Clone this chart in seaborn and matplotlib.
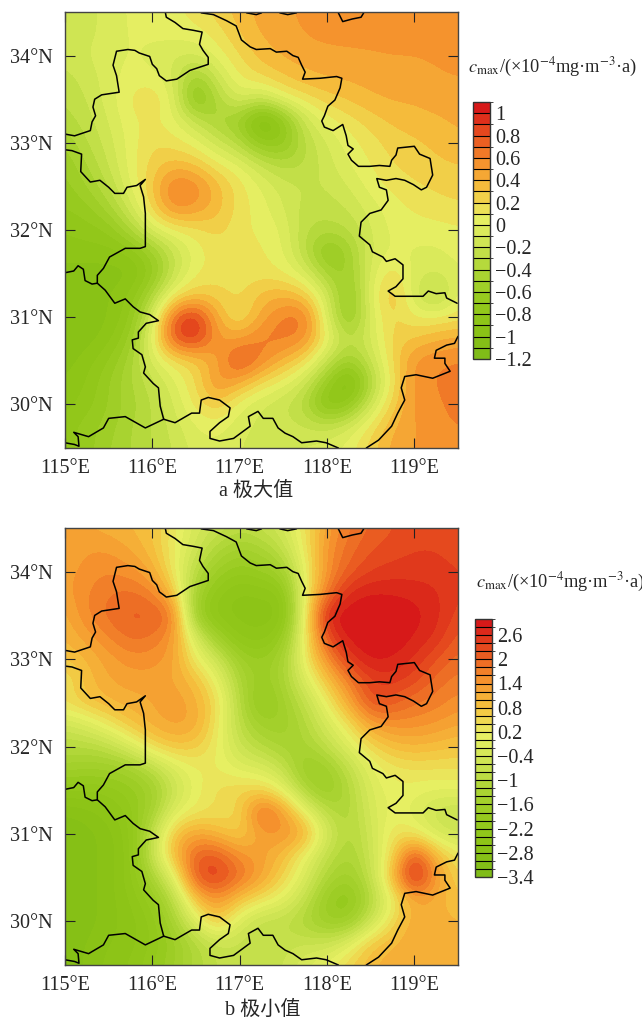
import numpy as np
import seaborn as sns
import matplotlib.pyplot as plt
from matplotlib.colors import BoundaryNorm, ListedColormap

# grid nodes of both fields (rows go north to south)
lons = [115 + 0.25 * i for i in range(19)]
lats = [34.5 - 0.25 * i for i in range(21)]

# a: maximum
field_a = [
    [-0.15,-0.12,-0.08,0.03,0.05,0.07,0.15,0.25,0.35,0.45,0.45,0.55,0.55,0.55,0.55,0.55,0.55,0.55,0.55],
    [-0.15,-0.12,-0.08,0.02,0.03,0.05,0.05,0.15,0.30,0.42,0.45,0.50,0.55,0.55,0.55,0.55,0.55,0.55,0.55],
    [-0.15,-0.10,-0.05,0.02,-0.05,-0.10,-0.10,0.05,0.20,0.35,0.42,0.45,0.45,0.47,0.48,0.50,0.50,0.52,0.55],
    [-0.25,-0.15,-0.05,0.05,0.05,-0.10,-0.55,-0.15,0.12,0.20,0.30,0.38,0.42,0.42,0.45,0.45,0.45,0.48,0.50],
    [-0.30,-0.20,-0.05,0.12,0.22,0.00,-0.85,-0.35,-0.05,-0.20,0.05,0.15,0.25,0.32,0.38,0.42,0.42,0.45,0.45],
    [-0.35,-0.25,-0.10,0.08,0.12,0.03,-0.20,-0.45,-0.55,-1.15,-0.75,-0.15,0.05,0.15,0.25,0.32,0.35,0.38,0.42],
    [-0.50,-0.30,-0.15,0.05,0.20,0.15,0.05,-0.15,-0.35,-0.70,-0.70,-0.30,-0.10,0.05,0.15,0.25,0.28,0.32,0.38],
    [-0.60,-0.40,-0.20,0.05,0.25,0.35,0.30,0.12,0.02,-0.20,-0.35,-0.30,-0.15,0.00,0.10,0.20,0.25,0.28,0.30],
    [-0.65,-0.50,-0.30,0.00,0.30,0.68,0.60,0.35,0.15,0.00,-0.15,-0.20,-0.20,-0.10,0.05,0.13,0.18,0.22,0.25],
    [-0.70,-0.65,-0.45,-0.15,0.25,0.58,0.50,0.35,0.15,0.05,-0.10,-0.25,-0.25,-0.20,-0.05,0.05,0.12,0.15,0.18],
    [-0.80,-0.75,-0.70,-0.40,-0.05,0.10,0.15,0.25,0.12,0.08,0.00,-0.30,-0.35,-0.30,-0.10,0.03,0.05,0.06,0.08],
    [-0.85,-0.85,-0.85,-0.80,-0.55,-0.20,0.05,0.15,0.15,0.12,0.02,-0.30,-0.75,-0.50,-0.10,0.02,-0.02,-0.03,0.05],
    [-0.95,-0.95,-0.95,-0.95,-0.70,-0.20,0.10,0.15,0.12,0.15,0.10,-0.05,-0.45,-0.55,-0.05,0.20,-0.05,-0.12,-0.02],
    [-1.00,-1.00,-0.90,-0.80,-0.40,0.15,0.28,0.25,0.18,0.35,0.40,0.30,-0.10,-0.70,0.00,0.38,-0.10,-0.40,0.05],
    [-1.00,-1.00,-0.90,-0.75,-0.10,0.80,1.00,0.40,0.12,0.45,0.65,0.70,-0.05,-0.70,-0.05,0.25,0.10,0.10,0.15],
    [-1.00,-0.95,-0.85,-0.60,0.05,0.85,0.95,0.50,0.50,0.65,0.65,0.58,0.10,-0.30,-0.10,0.25,0.30,0.40,0.45],
    [-0.95,-0.85,-0.70,-0.45,-0.05,0.15,0.25,0.45,0.88,0.60,0.38,0.20,-0.20,-0.55,-0.20,0.20,0.55,0.58,0.60],
    [-0.90,-0.80,-0.60,-0.40,-0.25,-0.02,0.20,0.58,0.42,0.20,0.05,-0.15,-0.60,-1.10,-0.40,0.15,0.55,0.60,0.70],
    [-0.85,-0.75,-0.60,-0.45,-0.30,-0.10,0.15,0.30,0.02,-0.12,-0.20,-0.35,-0.90,-0.70,-0.15,0.25,0.55,0.55,0.68],
    [-0.75,-0.65,-0.55,-0.40,-0.30,-0.15,0.00,0.05,-0.08,-0.12,-0.15,-0.20,-0.22,-0.10,0.15,0.40,0.50,0.55,0.60],
    [-0.75,-0.65,-0.50,-0.40,-0.30,-0.20,-0.05,-0.02,-0.10,-0.15,-0.10,-0.08,-0.05,0.05,0.25,0.45,0.50,0.55,0.55],
]

# b: minimum
field_b = [
    [1.2,1.2,1.1,1.0,0.8,0.3,-0.3,-0.6,-0.9,-0.7,-0.4,0.4,1.3,1.8,2.0,2.2,2.3,2.3,2.3],
    [1.2,1.4,1.4,1.2,0.9,0.2,-0.5,-1.2,-1.5,-1.3,-0.8,0.3,1.5,1.9,2.2,2.3,2.4,2.4,2.3],
    [1.3,1.5,1.6,1.5,1.2,0.3,-1.0,-1.7,-2.0,-1.8,-1.5,0.1,1.5,2.1,2.4,2.5,2.5,2.5,2.4],
    [1.3,1.6,1.8,1.9,1.7,0.9,-1.5,-2.2,-2.5,-2.4,-2.3,0.2,1.8,2.7,2.85,2.8,2.75,2.65,2.4],
    [1.1,1.6,1.9,2.1,2.1,1.9,-1.8,-2.4,-2.5,-2.5,-2.6,0.3,2.9,3.0,3.0,3.0,2.9,2.7,2.3],
    [1.0,1.3,1.6,1.9,1.8,1.4,-0.3,-1.6,-2.3,-2.4,-1.9,0.3,2.3,2.95,3.0,3.0,2.8,2.6,2.1],
    [0.8,1.0,1.3,1.5,1.5,1.3,0.2,-0.5,-1.6,-1.8,-1.4,0.3,1.5,2.5,2.9,2.8,2.6,2.2,1.9],
    [0.3,0.9,1.2,1.3,1.3,1.2,0.9,0.1,-1.2,-1.8,-1.3,-0.2,0.8,1.7,2.4,2.5,2.3,1.9,1.7],
    [0.5,0.8,1.0,1.1,1.2,1.4,1.1,0.5,-1.0,-2.2,-1.5,-0.8,0.2,1.2,2.3,2.1,1.8,1.7,1.5],
    [-0.5,-0.2,0.3,0.8,1.1,1.3,1.2,0.3,-0.9,-1.5,-1.6,-1.1,-0.3,0.4,1.3,1.5,1.5,1.4,1.2],
    [-1.0,-1.0,-0.8,-0.2,0.5,0.8,0.7,0.2,-0.6,-1.0,-1.3,-1.3,-0.8,-0.1,0.5,0.9,1.0,0.9,0.8],
    [-1.5,-1.6,-1.6,-1.5,-0.9,-0.2,0.2,0.2,-0.1,-0.2,-0.7,-1.8,-1.6,-0.8,0.0,0.3,0.4,0.4,0.4],
    [-2.2,-2.2,-2.1,-1.9,-1.6,-0.6,0.1,0.5,0.6,0.6,0.1,-1.2,-1.8,-1.1,-0.2,0.15,0.1,0.0,0.05],
    [-2.8,-2.7,-2.5,-2.1,-1.4,-0.1,0.3,0.4,0.5,2.2,1.4,0.2,-0.9,-1.2,-0.3,0.1,-0.1,-0.6,-0.7],
    [-3.0,-2.9,-2.7,-2.3,-0.8,0.9,1.3,1.0,0.6,1.3,1.5,1.2,-0.3,-1.2,-0.5,0.4,0.3,-0.3,-0.5],
    [-3.0,-2.9,-2.7,-2.4,-0.6,1.0,2.1,2.2,1.5,1.3,0.9,0.1,-0.8,-1.3,-0.6,0.5,2.5,1.0,0.3],
    [-3.0,-2.9,-2.7,-2.3,-1.3,-0.1,2.3,2.5,1.9,1.3,0.6,-0.2,-1.2,-1.6,-0.8,1.0,3.0,1.4,0.6],
    [-3.0,-2.9,-2.7,-2.4,-1.9,-0.9,0.9,1.5,0.8,0.4,0.0,-0.7,-1.8,-2.2,-1.1,0.1,1.2,1.1,0.8],
    [-3.0,-2.9,-2.7,-2.5,-2.2,-1.3,-0.1,0.9,-0.2,-0.8,-0.8,-1.2,-1.7,-1.7,-0.6,0.5,1.2,1.1,1.0],
    [-2.9,-2.8,-2.6,-2.5,-2.2,-1.7,-1.1,-0.6,-0.7,-0.8,-0.7,-0.6,-0.6,-0.1,0.8,1.0,1.2,1.2,1.1],
    [-2.9,-2.8,-2.5,-2.4,-2.0,-1.6,-1.1,-0.8,-0.6,-0.8,-0.6,-0.2,0.1,0.6,1.0,1.1,1.2,1.2,1.2],
]

# colour bar levels and labels
levels_a = [-1.2 + 0.1 * i for i in range(24)]
levels_b = [-3.4 + 0.2 * i for i in range(33)]
ticks_a = [1, 0.8, 0.6, 0.4, 0.2, 0, -0.2, -0.4, -0.6, -0.8, -1, -1.2]
labels_a = ["1", "0.8", "0.6", "0.4", "0.2", "0", "−0.2", "−0.4", "−0.6", "−0.8", "−1", "−1.2"]
ticks_b = [2.6, 2, 1.4, 0.8, 0.2, -0.4, -1, -1.6, -2.2, -2.8, -3.4]
labels_b = ["2.6", "2", "1.4", "0.8", "0.2", "−0.4", "−1", "−1.6", "−2.2", "−2.8", "−3.4"]
anchors = ["#80BC18", "#8CC416", "#96CA1E", "#ACD534", "#CDE452", "#E8F064",
           "#F5C33E", "#F5912D", "#E8521F", "#D71919"]

# province borders, lon/lat
border_n = [(115.00,33.10),(115.11,33.08),(115.29,33.14),(115.31,33.24),(115.35,33.31),(115.32,33.41),(115.34,33.50),(115.42,33.55),(115.62,33.58),(115.59,33.77),(115.55,33.89),(115.59,34.05),(115.72,34.07),(115.80,34.06),(115.85,34.03),(115.97,33.99),(116.00,33.90),(116.05,33.85),(116.08,33.77),(116.16,33.71),(116.28,33.73),(116.43,33.83),(116.64,33.90),(116.64,33.98),(116.58,34.06),(116.54,34.13),(116.57,34.27),(116.47,34.29),(116.35,34.31),(116.26,34.38),(116.16,34.44),(116.15,34.49)]
border_e = [(116.56,34.49),(116.70,34.47),(116.85,34.40),(116.96,34.34),(117.02,34.18),(117.12,34.10),(117.19,34.07),(117.35,34.08),(117.42,34.04),(117.54,34.05),(117.61,34.00),(117.67,33.98),(117.71,33.89),(117.75,33.81),(117.72,33.73),(117.92,33.74),(118.11,33.76),(118.17,33.74),(118.15,33.63),(118.09,33.49),(118.01,33.42),(117.97,33.31),(117.94,33.25),(117.97,33.18),(118.07,33.14),(118.18,33.21),(118.22,33.08),(118.24,32.97),(118.30,32.93),(118.24,32.87),(118.28,32.80),(118.36,32.73),(118.49,32.73),(118.60,32.74),(118.72,32.73),(118.74,32.80),(118.79,32.86),(118.81,32.94),(119.00,32.96),(119.06,32.87),(119.18,32.82),(119.21,32.63),(119.14,32.49),(119.08,32.46),(118.99,32.52),(118.89,32.57),(118.79,32.59),(118.68,32.57),(118.57,32.59),(118.60,32.49),(118.68,32.46),(118.70,32.34),(118.62,32.23),(118.49,32.19),(118.39,32.09),(118.37,31.93),(118.49,31.83),(118.52,31.75),(118.64,31.69),(118.68,31.64),(118.78,31.67),(118.87,31.60),(118.87,31.44),(118.79,31.35),(118.70,31.30),(118.78,31.24),(119.10,31.24),(119.16,31.30),(119.25,31.27),(119.35,31.28),(119.37,31.22),(119.49,31.16)]
border_w = [(115.00,32.92),(115.08,32.91),(115.19,32.87),(115.18,32.67),(115.29,32.55),(115.40,32.57),(115.50,32.49),(115.57,32.42),(115.67,32.42),(115.71,32.49),(115.82,32.51),(115.92,32.58),(115.86,32.51),(115.90,32.38),(115.92,32.19),(115.92,31.81),(115.86,31.79),(115.69,31.79),(115.51,31.69),(115.44,31.56),(115.37,31.48),(115.37,31.39),(115.46,31.31),(115.57,31.16),(115.69,31.21),(115.78,31.12),(115.86,31.06),(115.97,31.03),(116.07,30.96),(115.93,30.93),(115.84,30.83),(115.84,30.76),(115.77,30.74),(115.78,30.64),(115.88,30.57),(115.92,30.43),(115.90,30.36),(116.01,30.24),(116.07,30.19),(116.09,29.98),(116.13,29.83),(116.26,29.79),(116.45,29.90),(116.54,29.90),(116.56,30.05),(116.64,30.08),(116.77,30.05),(116.89,29.96),(116.87,29.86),(116.77,29.79),(116.66,29.69),(116.66,29.61),(116.77,29.58),(116.93,29.61),(117.12,29.75),(117.10,29.86),(117.21,29.92),(117.27,29.84),(117.38,29.84),(117.44,29.73),(117.52,29.67),(117.61,29.63),(117.71,29.56),(117.88,29.58),(117.99,29.56),(118.13,29.50)]
border_se = [(118.45,29.50),(118.59,29.59),(118.74,29.75),(118.81,29.90),(118.89,30.05),(118.85,30.19),(118.89,30.32),(119.02,30.34),(119.21,30.30),(119.41,30.38),(119.35,30.47),(119.35,30.53),(119.23,30.53),(119.25,30.62),(119.37,30.68),(119.46,30.70),(119.50,30.78)]
border_hb = [(115.00,31.51),(115.10,31.53),(115.15,31.59),(115.21,31.55),(115.23,31.42),(115.31,31.38),(115.37,31.39)]
border_top1 = [(118.13,34.49),(118.18,34.39),(118.29,34.42),(118.39,34.44),(118.42,34.49)]
border_top2 = [(117.08,34.49),(117.19,34.47),(117.25,34.49)]
border_top3 = [(117.46,34.49),(117.55,34.47),(117.65,34.49)]
border_sw = [(115.00,29.56),(115.11,29.54),(115.16,29.52),(115.15,29.63),(115.10,29.68),(115.27,29.63),(115.44,29.73),(115.50,29.84),(115.69,29.86),(115.92,29.73),(116.13,29.83)]
borders = [border_n, border_e, border_w, border_se, border_hb, border_top1, border_top2, border_top3, border_sw]

sns.set_style("ticks")
plt.rcParams["font.family"] = ["Liberation Serif", "Noto Sans CJK SC"]
plt.rcParams["mathtext.fontset"] = "stix"

W, H = 642, 1018
fig = plt.figure(figsize=(W / 100, H / 100), dpi=100)


def box(x0, y0, x1, y1):
    return [x0 / W, 1 - y1 / H, (x1 - x0) / W, (y1 - y0) / H]


def panel(field, levels, ticks, labels, top, bottom, cb, unit_xy, caption, cap_xy):
    ax = fig.add_axes(box(65, top, 458, bottom))
    n = len(levels) - 1
    cmap = ListedColormap(sns.blend_palette(anchors, n))
    cmap = cmap.with_extremes(under=anchors[0], over=anchors[-1])
    norm = BoundaryNorm(levels, n)
    im = ax.imshow(np.array(field), extent=[lons[0] - 0.125, lons[-1] + 0.125, lats[-1] - 0.125, lats[0] + 0.125],
                   origin="upper", aspect="auto", cmap=cmap, norm=norm,
                   interpolation="bicubic", interpolation_stage="data")
    for seg in borders:
        x, y = zip(*seg)
        sns.lineplot(x=list(x), y=list(y), sort=False, estimator=None, color="black", lw=1.1, ax=ax)
    ax.set_xlim(115, 119.5)
    ax.set_ylim(29.5, 34.5)
    ax.set_xticks([115, 116, 117, 118, 119])
    ax.set_xticklabels(["115°E", "116°E", "117°E", "118°E", "119°E"])
    ax.set_yticks([30, 31, 32, 33, 34])
    ax.set_yticklabels(["30°N", "31°N", "32°N", "33°N", "34°N"])
    ax.tick_params(direction="in", top=True, right=True, length=7, width=0.8, labelsize=14.5, color="#222222")
    ax.tick_params(axis="x", pad=8)
    ax.tick_params(axis="y", pad=9)
    for s in ax.spines.values():
        s.set_linewidth(1)
        s.set_color("#444444")

    cax = fig.add_axes(box(*cb))
    bar = fig.colorbar(im, cax=cax, drawedges=True, spacing="proportional")
    bar.set_ticks(ticks)
    bar.set_ticklabels(labels)
    bar.ax.tick_params(length=0, labelsize=14.5, pad=4)
    bar.dividers.set_color("black")
    bar.dividers.set_linewidth(0.8)
    bar.outline.set_edgecolor("#333333")
    bar.outline.set_linewidth(1)

    fig.text(unit_xy[0] / W, 1 - unit_xy[1] / H,
             r"$c_{\mathrm{max}}$/(×10$^{-4}$mg·m$^{-3}$·a)",
             fontsize=13.2, va="center", ha="left")
    fig.text(cap_xy[0] / W, 1 - cap_xy[1] / H, caption, fontsize=14.5, va="center", ha="center")


panel(field_a, levels_a, ticks_a, labels_a, 12, 448, (473, 102, 489.5, 359), (468, 67), "a 极大值", (256, 491))
panel(field_b, levels_b, ticks_b, labels_b, 528, 965, (475, 619, 491.5, 877), (476, 582), "b 极小值", (263, 1010))

fig.savefig("out.png", dpi=100)
